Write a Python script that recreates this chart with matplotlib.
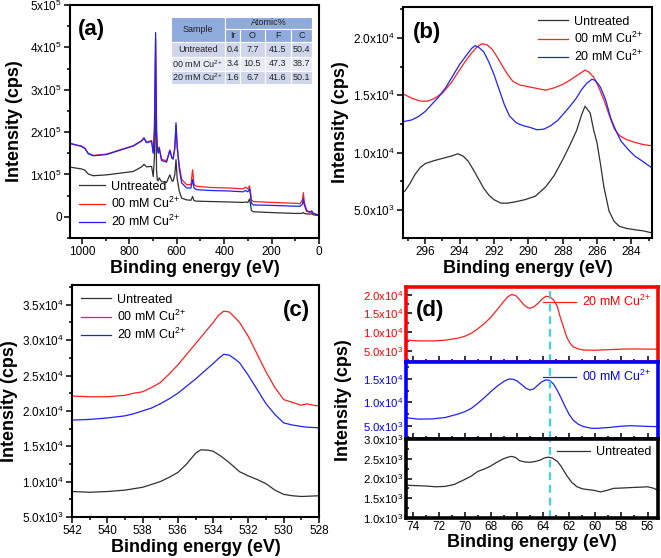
import matplotlib
matplotlib.use('Agg')
import matplotlib.pyplot as plt
from matplotlib.patches import Rectangle
from matplotlib.ticker import FixedLocator, FixedFormatter, MultipleLocator

plt.rcParams.update({
    'font.family': ['Liberation Sans', 'DejaVu Sans'],
    'mathtext.fontset': 'custom',
    'mathtext.rm': 'Liberation Sans',
    'mathtext.it': 'Liberation Sans:italic',
    'mathtext.bf': 'Liberation Sans:bold',
    'font.size': 9,
})

RED = '#FF2020'
BLUE = '#2020FF'
BLACK = '#303030'

labels = ['Untreated', '00 mM Cu$^{2{+}}$', '20 mM Cu$^{2{+}}$']

# ---------------- (a) survey ----------------
survey_E = [1046, 1001, 987, 973, 952, 896, 840, 783, 748, 738, 727, 706, 699, 694, 689, 685, 682,
            678, 674, 664, 643, 629, 620, 615, 608, 603, 598, 589, 579, 558, 540, 533, 527, 516,
            450, 380, 320, 310, 300, 293, 289, 285, 277, 200, 100, 80, 70, 66, 62, 52, 40, 31,
            25, 10, 2]
survey_red = [172, 167, 162, 150, 145, 148, 158, 168, 180, 187, 176, 180, 152, 200, 420, 200, 168,
              152, 165, 136, 132, 158, 140, 138, 160, 215, 166, 120, 88, 76, 76, 111, 76, 72,
              69, 68, 66, 70, 66, 73, 60, 40, 36, 34, 32, 31, 40, 57, 35, 15, 12, 10,
              8, 6, 5]
survey_blue = [173, 166, 161, 149, 144, 147, 157, 167, 179, 185, 175, 178, 150, 210, 435, 205, 166,
               150, 162, 133, 129, 156, 138, 136, 165, 222, 165, 112, 80, 68, 68, 88, 68, 64,
               62, 61, 59, 62, 59, 66, 52, 32, 28, 27, 25, 25, 30, 43, 28, 13, 11, 14,
               9, 5, 4]
survey_black = [117, 113, 110, 101, 97, 99, 103, 107, 118, 124, 118, 119, 95, 140, 290, 110, 88,
                85, 92, 83, 81, 99, 85, 84, 100, 135, 90, 60, 44, 40, 39, 48, 38, 37,
                36, 35, 34, 35, 34, 42, 30, 15, 12, 10, 8, 8, 8.5, 10, 8, 7, 6.5, 7,
                5, 3.5, 3]

table_samples = ['Untreated', '00 mM Cu$^{2{+}}$', '20 mM Cu$^{2{+}}$']
table_cols = ['Ir', 'O', 'F', 'C']
table_Ir = ['0.4', '3.4', '1.6']
table_O = ['7.7', '10.5', '6.7']
table_F = ['41.5', '47.3', '41.6']
table_C = ['50.4', '38.7', '50.1']

a_yticks = [0, 1e5, 2e5, 3e5, 4e5, 5e5]
a_yticklabels = ['0', '1x10$^5$', '2x10$^5$', '3x10$^5$', '4x10$^5$', '5x10$^5$']
a_xticks = [1000, 800, 600, 400, 200, 0]

# ---------------- (b) C 1s ----------------
b_red_E = [297.2, 296.8, 296.3, 295.9, 295.5, 295.0, 294.5, 294.1, 293.7, 293.3, 293.0, 292.7,
           292.4, 292.1, 291.8, 291.5, 291.2, 290.9, 290.5, 290.0, 289.5, 289.0, 288.5, 288.0,
           287.6, 287.2, 286.9, 286.7, 286.5, 286.2, 285.9, 285.6, 285.3, 285.0, 284.7, 284.3,
           283.8, 283.3, 282.8]
b_red = [15060, 14750, 14500, 14480, 14700, 15200, 16080, 17000, 17900, 18700, 19200, 19500,
         19400, 19000, 18300, 17530, 16800, 16220, 15900, 15750, 15600, 15450, 15650, 15950,
         16300, 16700, 17000, 17200, 17050, 16600, 15700, 14600, 13300, 12100, 11500, 11150,
         10900, 10700, 10600]
b_blue_E = [297.2, 296.8, 296.4, 296.0, 295.6, 295.2, 294.8, 294.4, 294.0, 293.6, 293.3, 293.1,
            292.9, 292.6, 292.3, 292.0, 291.7, 291.4, 291.1, 290.7, 290.3, 289.9, 289.5, 289.1,
            288.7, 288.3, 288.0, 287.6, 287.2, 286.9, 286.6, 286.3, 286.1, 285.8, 285.5, 285.2,
            284.9, 284.6, 284.2, 283.8, 283.3, 282.8]
b_blue = [12730, 12850, 13150, 13600, 14250, 14900, 15700, 16700, 17700, 18500, 19100, 19330,
          19200, 18800, 17900, 16800, 15500, 14200, 13200, 12600, 12350, 12200, 12000, 12050,
          12350, 12800, 13310, 14000, 14770, 15500, 16050, 16400, 16300, 15700, 14600, 13000,
          11900, 11000, 10300, 9700, 9200, 8660]
b_black_E = [297.2, 296.9, 296.6, 296.3, 296.0, 295.5, 295.0, 294.5, 294.1, 293.8, 293.5, 293.2,
             292.9, 292.6, 292.3, 292.0, 291.6, 291.2, 290.8, 290.2, 289.6, 289.0, 288.5, 288.0,
             287.6, 287.2, 286.9, 286.7, 286.4, 286.2, 286.0, 285.8, 285.6, 285.3, 285.0, 284.7,
             284.3, 283.8, 283.3, 282.8]
b_black = [6630, 7300, 8100, 8700, 9050, 9300, 9500, 9700, 9900, 9700, 9250, 8500,
           7700, 6900, 6300, 5900, 5600, 5600, 5700, 5900, 6200, 7000, 8000, 9390,
           10600, 11900, 13300, 14050, 13460, 12000, 10840, 9000, 7000, 4900, 4000, 3580,
           3400, 3280, 3180, 3000]
b_yticks = [5000, 10000, 15000, 20000]
b_yticklabels = ['5.0x10$^3$', '1.0x10$^4$', '1.5x10$^4$', '2.0x10$^4$']
b_xticks = [296, 294, 292, 290, 288, 286, 284]

# ---------------- (c) O 1s ----------------
c_E = [542, 541, 540, 539, 538.5, 538, 537.5, 537, 536.5, 536, 535.5, 535, 534.5, 534, 533.7,
       533.4, 533.1, 532.8, 532.5, 532, 531.5, 531, 530.5, 530, 529.5, 529, 528.7, 528.3, 528]
c_red = [22100, 22000, 22000, 22200, 22500, 22700, 23300, 24000, 25200, 26500, 28000, 29500,
         31000, 32500, 33500, 34100, 34000, 33300, 32500, 30500, 28000, 25500, 23300, 21600,
         21200, 20800, 21000, 20800, 20700]
c_blue = [18700, 18800, 19000, 19300, 19600, 20000, 20400, 21000, 21700, 22500, 23500, 24500,
          25600, 26700, 27400, 28000, 27900, 27400, 26800, 25000, 23000, 21000, 19500, 18300,
          18000, 17800, 17700, 17650, 17600]
c_black_E = [542, 541, 540, 539, 538, 537, 536.5, 536, 535.5, 535, 534.7, 534.3, 534, 533.5,
             533, 532.5, 532, 531.5, 531, 530.5, 530, 529.5, 529, 528]
c_black = [8600, 8500, 8600, 8800, 9200, 10000, 10600, 11300, 12500, 14000, 14500, 14450, 14300,
           13500, 12500, 11400, 10800, 10300, 9700, 8800, 8200, 8000, 7900, 8000]
c_yticks = [5000, 10000, 15000, 20000, 25000, 30000, 35000]
c_yticklabels = ['5.0x10$^3$', '1.0x10$^4$', '1.5x10$^4$', '2.0x10$^4$', '2.5x10$^4$',
                 '3.0x10$^4$', '3.5x10$^4$']
c_xticks = [542, 540, 538, 536, 534, 532, 530, 528]

# ---------------- (d) Ir 4f ----------------
d_top_E = [74.5, 73.5, 72.5, 71.5, 70.5, 70.0, 69.5, 69.0, 68.5, 68.0, 67.5, 67.0, 66.7, 66.4,
           66.1, 65.8, 65.5, 65.2, 65.0, 64.7, 64.4, 64.1, 63.8, 63.5, 63.2, 62.9, 62.7, 62.45,
           62.2, 61.95, 61.7, 61.3, 60.9, 60.0, 59.0, 58.0, 57.0, 56.0, 55.2]
d_top = [7880, 7650, 7650, 7850, 8400, 8900, 9700, 10900, 12300, 14000, 16100, 18300, 19500, 20100,
         19800, 18700, 17400, 16600, 16400, 16800, 17700, 18800, 19600, 19500, 18650, 16800, 14160,
         11500, 8770, 7100, 6080, 5500, 5200, 5150, 5300, 5450, 5500, 5450, 5450]
d_mid_E = [74.5, 73.5, 72.5, 71.5, 70.5, 70.0, 69.5, 69.0, 68.5, 68.0, 67.5, 67.0, 66.6, 66.3,
           66.0, 65.6, 65.3, 65.0, 64.7, 64.4, 64.1, 63.8, 63.5, 63.2, 62.9, 62.6, 62.3, 62.0,
           61.7, 61.3, 60.9, 60.3, 59.9, 59.0, 58.0, 57.3, 56.0, 55.2]
d_mid = [6700, 6400, 6450, 6750, 7500, 8000, 8700, 9800, 11000, 12300, 13500, 14500, 15000, 14950,
         14600, 13700, 13000, 12640, 12900, 13700, 14400, 14800, 14700, 13900, 12500, 10800, 9000,
         7400, 6200, 5300, 4800, 4450, 4430, 4600, 4900, 5000, 4850, 4790]
d_bot_E = [74.5, 73.8, 73.0, 72.2, 71.5, 70.8, 70.1, 69.5, 69.0, 68.5, 68.1, 67.6, 67.1, 66.7,
           66.4, 66.1, 65.8, 65.4, 65.0, 64.6, 64.2, 63.9, 63.6, 63.3, 62.9, 62.6, 62.2, 61.8,
           61.4, 61.0, 60.6, 60.1, 59.6, 59.1, 58.6, 57.9, 57.3, 56.6, 56.0, 55.5, 55.2]
d_bot = [1830, 1820, 1810, 1790, 1800, 1850, 1960, 2060, 2180, 2240, 2300, 2400, 2490, 2540,
         2560, 2530, 2450, 2420, 2410, 2430, 2470, 2520, 2540, 2520, 2430, 2300, 2080, 1900,
         1790, 1740, 1720, 1700, 1660, 1700, 1750, 1760, 1770, 1780, 1790, 1750, 1690]
d_top_yticks = [5000, 10000, 15000, 20000]
d_top_yticklabels = ['5.0x10$^3$', '1.0x10$^4$', '1.5x10$^4$', '2.0x10$^4$']
d_mid_yticks = [5000, 10000, 15000]
d_mid_yticklabels = ['5.0x10$^3$', '1.0x10$^4$', '1.5x10$^4$']
d_bot_yticks = [1000, 1500, 2000, 2500, 3000]
d_bot_yticklabels = ['1.0x10$^3$', '1.5x10$^3$', '2.0x10$^3$', '2.5x10$^3$', '3.0x10$^3$']
d_xticks = [74, 72, 70, 68, 66, 64, 62, 60, 58, 56]
d_marker_E = 63.5

W, H = 661, 558
fig = plt.figure(figsize=(W / 100, H / 100), dpi=100)


def rect(l, t, r, b):
    return [l / W, 1 - b / H, (r - l) / W, (b - t) / H]


LW = 0.9
XLAB = dict(fontsize=13, fontweight='bold')


def style(ax, direction='out', spine_lw=1.5):
    for s in ax.spines.values():
        s.set_linewidth(spine_lw)
    ax.tick_params(which='both', direction=direction, width=1.1, labelsize=8.5, pad=2)
    ax.tick_params(which='major', length=4)
    ax.tick_params(which='minor', length=2.5)


def set_ticks(ax, axis, ticks, labels=None):
    a = ax.xaxis if axis == 'x' else ax.yaxis
    a.set_major_locator(FixedLocator(ticks))
    if labels is None:
        labels = [str(t) for t in ticks]
    a.set_major_formatter(FixedFormatter(labels))


# ---- (a)
axa = fig.add_axes(rect(70, 5, 319, 238))
axa.plot(survey_E, [v * 1000 for v in survey_black], color=BLACK, lw=LW, label=labels[0])
axa.plot(survey_E, [v * 1000 for v in survey_red], color=RED, lw=LW, label=labels[1])
axa.plot(survey_E, [v * 1000 for v in survey_blue], color=BLUE, lw=LW, label=labels[2])
axa.set_xlim(1050, 0)
axa.set_ylim(-0.5e5, 5e5)
style(axa)
set_ticks(axa, 'x', a_xticks)
set_ticks(axa, 'y', a_yticks, a_yticklabels)
axa.xaxis.set_minor_locator(MultipleLocator(100))
axa.yaxis.set_minor_locator(MultipleLocator(0.5e5))
axa.set_xlabel('Binding energy (eV)', labelpad=1, **XLAB)
axa.set_ylabel('Intensity (cps)', labelpad=5, **XLAB)
axa.text(0.032, 0.94, '(a)', transform=axa.transAxes, fontsize=16, fontweight='bold', va='top')
axa.legend(loc='lower left', bbox_to_anchor=(0.0, 0.0), frameon=False, fontsize=9,
           handlelength=2.1, handletextpad=0.5, labelspacing=0.25, borderaxespad=0.3)

# table
xs = [0.404, 0.622, 0.683, 0.783, 0.886, 0.973]
ys = [0.950, 0.896, 0.840, 0.778, 0.718, 0.659]
HDR = '#8FAADC'
ROW1 = '#CFD6EC'
ROW2 = '#E8EBF5'
T = axa.transAxes


def cell(x0, x1, y0, y1, fc, txt):
    axa.add_patch(Rectangle((x0, y1), x1 - x0, y0 - y1, transform=T, facecolor=fc,
                            edgecolor='white', lw=0.8, zorder=5))
    axa.text((x0 + x1) / 2, (y0 + y1) / 2, txt, transform=T, ha='center', va='center',
             fontsize=6.5, color='#222222', zorder=6)


cell(xs[0], xs[1], ys[0], ys[2], HDR, 'Sample')
cell(xs[1], xs[5], ys[0], ys[1], HDR, 'Atomic%')
for j, c in enumerate(table_cols):
    cell(xs[j + 1], xs[j + 2], ys[1], ys[2], HDR, c)
cols_vals = [table_Ir, table_O, table_F, table_C]
for i, s in enumerate(table_samples):
    fc = ROW1 if i % 2 == 0 else ROW2
    cell(xs[0], xs[1], ys[i + 2], ys[i + 3], fc, s)
    for j in range(4):
        cell(xs[j + 1], xs[j + 2], ys[i + 2], ys[i + 3], fc, cols_vals[j][i])

# ---- (b)
axb = fig.add_axes(rect(403, 7, 652, 238))
axb.plot(b_black_E, b_black, color=BLACK, lw=LW, label=labels[0])
axb.plot(b_red_E, b_red, color=RED, lw=LW, label=labels[1])
axb.plot(b_blue_E, b_blue, color=BLUE, lw=LW, label=labels[2])
axb.set_xlim(297.3, 282.8)
axb.set_ylim(2560, 22700)
style(axb)
set_ticks(axb, 'x', b_xticks)
set_ticks(axb, 'y', b_yticks, b_yticklabels)
axb.xaxis.set_minor_locator(MultipleLocator(1))
axb.yaxis.set_minor_locator(MultipleLocator(2500))
axb.set_xlabel('Binding energy (eV)', labelpad=1, **XLAB)
axb.set_ylabel('Intensity (cps)', labelpad=3, **XLAB)
axb.text(0.04, 0.935, '(b)', transform=axb.transAxes, fontsize=16, fontweight='bold', va='top')
axb.legend(loc='upper right', bbox_to_anchor=(1.0, 1.0), frameon=False, fontsize=9,
           handlelength=2.4, handletextpad=0.5, labelspacing=0.25, borderaxespad=0.3)

# ---- (c)
axc = fig.add_axes(rect(72, 285, 319, 517))
axc.plot(c_black_E, c_black, color=BLACK, lw=LW, label=labels[0])
axc.plot(c_E, c_red, color=RED, lw=LW, label=labels[1])
axc.plot(c_E, c_blue, color=BLUE, lw=LW, label=labels[2])
axc.set_xlim(542, 528)
axc.set_ylim(5000, 37800)
style(axc)
set_ticks(axc, 'x', c_xticks)
set_ticks(axc, 'y', c_yticks, c_yticklabels)
axc.xaxis.set_minor_locator(MultipleLocator(1))
axc.yaxis.set_minor_locator(MultipleLocator(2500))
axc.set_xlabel('Binding energy (eV)', labelpad=1, **XLAB)
axc.set_ylabel('Intensity (cps)', labelpad=3, **XLAB)
axc.text(0.965, 0.935, '(c)', transform=axc.transAxes, fontsize=16, fontweight='bold', va='top',
         ha='right')
axc.legend(loc='upper left', bbox_to_anchor=(0.0, 1.0), frameon=False, fontsize=9,
           handlelength=2.4, handletextpad=0.5, labelspacing=0.25, borderaxespad=0.3)

# ---- (d)
axd1 = fig.add_axes(rect(406, 287, 658, 362))
axd2 = fig.add_axes(rect(406, 362, 658, 439))
axd3 = fig.add_axes(rect(406, 439, 658, 518))
panels = [
    (axd1, d_top_E, d_top, RED, 'red', labels[2], (2000, 22100), d_top_yticks,
     d_top_yticklabels, 2500),
    (axd2, d_mid_E, d_mid, BLUE, 'blue', labels[1], (2150, 18640), d_mid_yticks,
     d_mid_yticklabels, 2500),
    (axd3, d_bot_E, d_bot, BLACK, 'black', labels[0], (1000, 3000), d_bot_yticks,
     d_bot_yticklabels, 250),
]
for ax, ex, ey, col, tc, lab, yl, yt, ytl, ymin in panels:
    ax.plot(ex, ey, color=col, lw=LW, label=lab)
    ax.axvline(d_marker_E, color='#22DDEE', lw=1.4, ls=(0, (4, 2.5)))
    ax.set_xlim(74.5, 55.2)
    ax.set_ylim(*yl)
    style(ax, direction='in', spine_lw=2.6)
    for s in ax.spines.values():
        s.set_edgecolor(tc)
    set_ticks(ax, 'x', d_xticks)
    set_ticks(ax, 'y', yt, ytl)
    ax.xaxis.set_minor_locator(MultipleLocator(1))
    ax.yaxis.set_minor_locator(MultipleLocator(ymin))
    ax.tick_params(axis='y', labelcolor=tc, labelsize=8.2)
    leg = ax.legend(loc='upper right', bbox_to_anchor=(1.0, 1.0), frameon=False, fontsize=9,
                    handlelength=2.6, handletextpad=0.5, borderaxespad=0.15)
    for t in leg.get_texts():
        t.set_color(tc)
axd1.tick_params(axis='x', labelbottom=False)
axd2.tick_params(axis='x', labelbottom=False)
axd3.set_xlabel('Binding energy (eV)', labelpad=1, **XLAB)
axd1.text(0.04, 0.83, '(d)', transform=axd1.transAxes, fontsize=16, fontweight='bold', va='top')
fig.text(343 / W, 1 - 400 / H, 'Intensity (cps)', rotation=90, ha='center', va='center', **XLAB)

fig.savefig('out.png', dpi=100)
